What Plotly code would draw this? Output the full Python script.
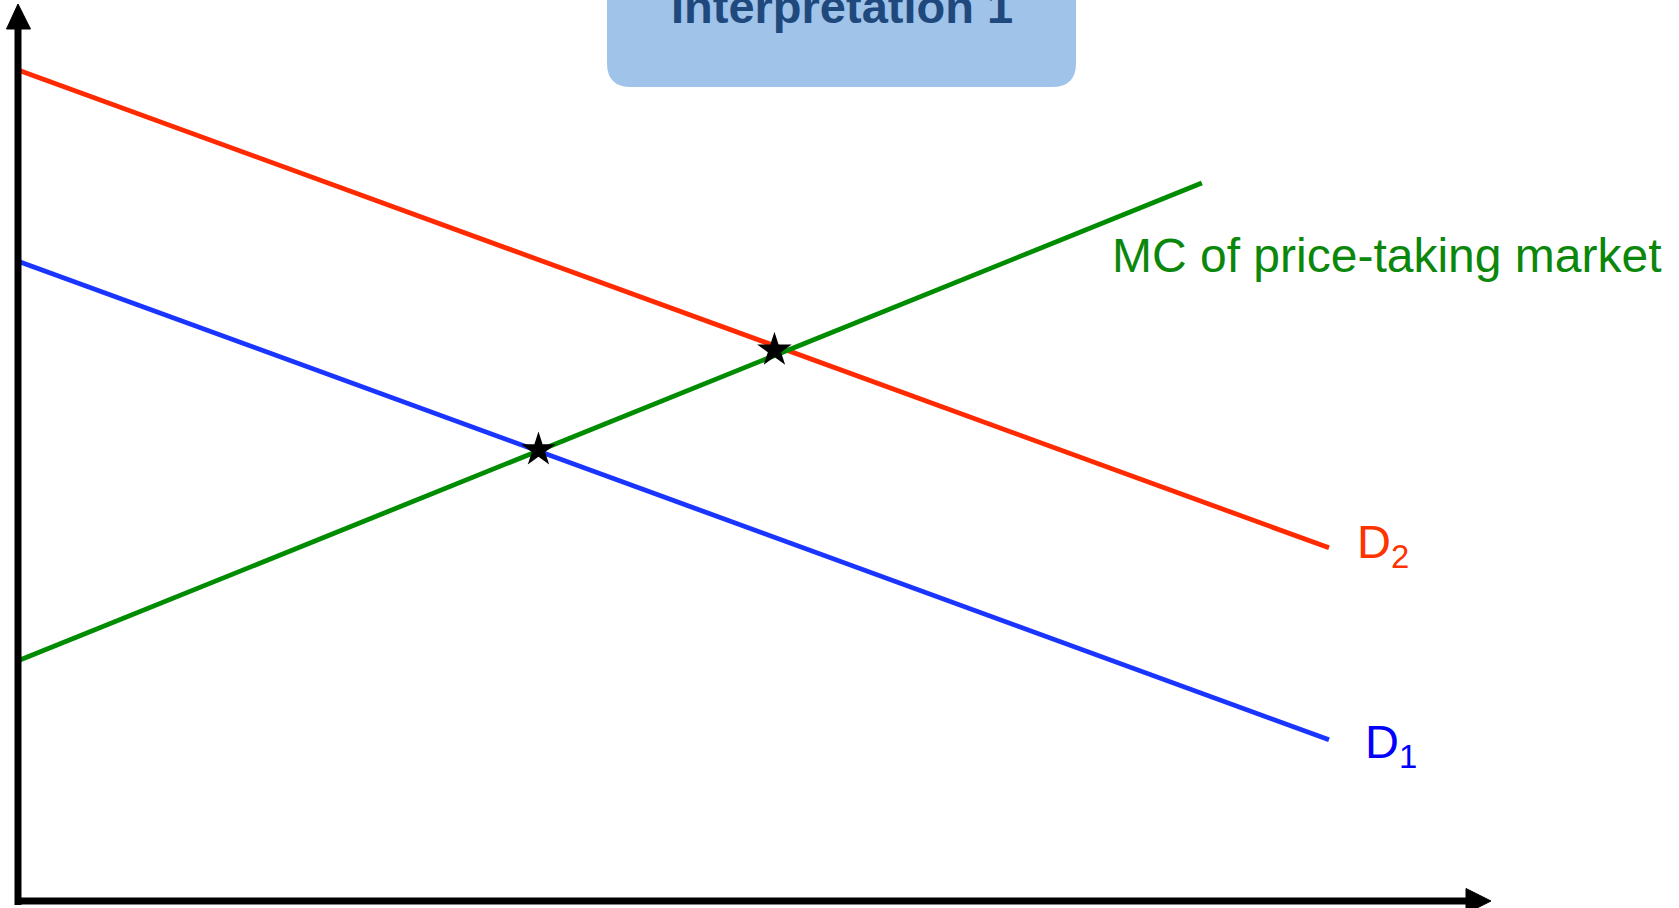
import plotly.graph_objects as go

# ---------------- data ----------------
q_demand = [0, 100]
p_d1 = [77.0, 19.4]
p_d2 = [100.0, 42.5]
q_mc = [0, 90.3]
p_mc = [28.9, 86.4]
eq_q = [39.7, 57.7]
eq_p = [54.3, 66.3]

title_text = "Interpretation 1"
mc_label = "MC of price-taking market"
d1_label = "D<sub>1</sub>"
d2_label = "D<sub>2</sub>"

# ---------------- layout helpers ----------------
W, H = 1679, 908
X0_PX, Y0_PX = 18.0, 901.0   # pixel position of origin
SX, SY = 13.11, 8.31         # pixels per unit
x_range = [-X0_PX / SX, (W - X0_PX) / SX]
y_range = [-(H - Y0_PX) / SY, Y0_PX / SY]


def qx(px):
    return (px - X0_PX) / SX


def py_(py):
    return (Y0_PX - py) / SY


def paper_x(px):
    return px / W


def paper_y(py):
    return 1 - py / H


RED = "#FF2A00"
BLUE = "#1A35FF"
GREEN = "#008C00"
LW = 4.8

fig = go.Figure()
fig.add_trace(go.Scatter(x=q_demand, y=p_d2, mode="lines",
                         line=dict(color=RED, width=LW), hoverinfo="skip"))
fig.add_trace(go.Scatter(x=q_demand, y=p_d1, mode="lines",
                         line=dict(color=BLUE, width=LW), hoverinfo="skip"))
fig.add_trace(go.Scatter(x=q_mc, y=p_mc, mode="lines",
                         line=dict(color=GREEN, width=LW), hoverinfo="skip"))
fig.add_trace(go.Scatter(x=eq_q, y=eq_p, mode="markers",
                         marker=dict(symbol="star", size=26, color="black"),
                         hoverinfo="skip"))

shapes = []
# axes
shapes.append(dict(type="line", xref="x", yref="y", x0=0, x1=0,
                   y0=py_(905), y1=py_(29), line=dict(color="black", width=7)))
shapes.append(dict(type="line", xref="x", yref="y", x0=qx(15), x1=qx(1467),
                   y0=0, y1=0, line=dict(color="black", width=7)))
# arrowheads
shapes.append(dict(type="path", xref="x", yref="y",
                   path=f"M {qx(6.5)},{py_(29)} L 0,{py_(4)} L {qx(30.5)},{py_(29)} Z",
                   fillcolor="black", line=dict(color="black", width=1)))
shapes.append(dict(type="path", xref="x", yref="y",
                   path=f"M {qx(1466)},{py_(888.5)} L {qx(1491)},0 L {qx(1466)},{py_(913.5)} Z",
                   fillcolor="black", line=dict(color="black", width=1)))
# title box (rounded rectangle, top clipped by figure edge)
L, R, B, T, r = 607, 1076, 87, -40, 24
path = (f"M {paper_x(L)},{paper_y(T)} L {paper_x(L)},{paper_y(B - r)} "
        f"Q {paper_x(L)},{paper_y(B)} {paper_x(L + r)},{paper_y(B)} "
        f"L {paper_x(R - r)},{paper_y(B)} "
        f"Q {paper_x(R)},{paper_y(B)} {paper_x(R)},{paper_y(B - r)} "
        f"L {paper_x(R)},{paper_y(T)} Z")
shapes.append(dict(type="path", xref="paper", yref="paper", path=path,
                   fillcolor="#9FC3E9", line=dict(width=0), layer="below"))

annotations = [
    dict(text=f"<b>{title_text}</b>", xref="paper", yref="paper",
         x=paper_x(841.5), y=paper_y(6), xanchor="center", yanchor="middle",
         showarrow=False, font=dict(family="Liberation Sans, Arial", size=47, color="#1F497D")),
    dict(text=mc_label, xref="paper", yref="paper",
         x=paper_x(1110), y=paper_y(255), xanchor="left", yanchor="middle",
         showarrow=False, font=dict(family="Liberation Sans, Arial", size=48, color="#0B870B")),
    dict(text=d2_label, xref="paper", yref="paper",
         x=paper_x(1355), y=paper_y(545), xanchor="left", yanchor="middle",
         showarrow=False, font=dict(family="Liberation Sans, Arial", size=47, color="#FF3300")),
    dict(text=d1_label, xref="paper", yref="paper",
         x=paper_x(1363), y=paper_y(745), xanchor="left", yanchor="middle",
         showarrow=False, font=dict(family="Liberation Sans, Arial", size=47, color="#0000FF")),
]

fig.update_layout(
    width=W, height=H,
    margin=dict(l=0, r=0, t=0, b=0),
    paper_bgcolor="white", plot_bgcolor="white",
    showlegend=False,
    xaxis=dict(range=x_range, visible=False, fixedrange=True),
    yaxis=dict(range=y_range, visible=False, fixedrange=True),
    shapes=shapes, annotations=annotations,
)

fig.write_html(
    "out.html",
    config={"displayModeBar": False},
    post_script="document.body.style.margin='0';document.body.style.overflow='hidden';",
)
